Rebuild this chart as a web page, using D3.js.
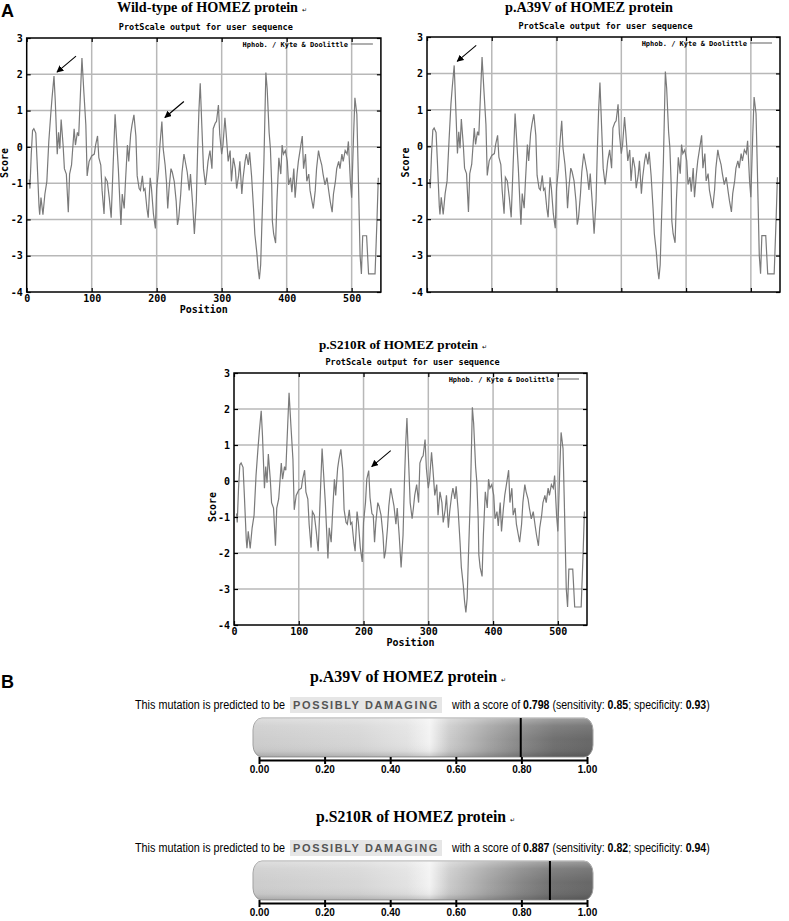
<!DOCTYPE html>
<html>
<head>
<meta charset="utf-8">
<script src="https://cdn.jsdelivr.net/npm/d3@7"></script>
<style>
  body { margin: 0; background: #fff; }
  svg { display: block; }
</style>
</head>
<body>
<svg id="fig" width="789" height="921"></svg>
<script>
// hydropathy profile (Kyte & Doolittle)
var positions = [
  4,5,7,9,11,14,16,19,20,22,
  25,28,31,34,37,39,42,44,47,49,
  51,53,56,58,61,64,66,69,73,75,
  78,80,83,85,88,91,93,96,100,104,
  106,109,111,114,116,119,121,124,127,130,
  133,136,138,141,145,147,150,152,155,157,
  160,162,165,168,170,173,175,178,180,182,
  185,187,190,192,195,198,200,203,205,208,
  210,213,215,217,219,222,224,227,230,232,
  234,237,239,242,245,247,250,252,255,258,
  261,263,265,267,269,272,275,277,279,282,
  285,287,290,292,295,297,300,302,305,307,
  310,313,315,318,321,323,326,328,331,333,
  336,338,341,343,346,349,351,354,356,358,
  360,362,365,368,370,373,375,377,378,380,
  383,385,388,391,393,395,398,401,403,406,
  408,411,413,416,418,421,424,426,429,431,
  434,436,439,441,444,446,449,451,454,456,
  459,462,465,467,470,472,475,477,480,482,
  485,487,490,493,495,498,500,503,505,508,
  510,513,515,517,523,526,536,539,541
];
var wildTypeScores = [
  -0.9,-1.15,-0.2,0.45,0.5,0.38,-0.4,-1.65,-1.87,-1.4,
  -1.87,-1.3,-0.95,0.15,0.9,1.35,1.95,1.25,-0.2,0.4,
  -0.05,0.75,0.05,-0.6,-0.75,-1.8,-0.75,-0.5,0.5,0.05,
  0.4,0.3,1.6,2.45,1.5,0.6,-0.8,-0.4,-0.25,-0.2,
  0.05,0.3,-0.3,-0.5,-1.2,-1.85,-0.85,-0.95,-1.4,-1.95,
  -0.5,0.9,0.3,-0.6,-2.15,-1.3,-1.7,-0.95,0.05,-0.4,
  0.35,0.6,0.88,0.3,-0.8,-1.15,-1.2,-0.8,-1.2,-1.15,
  -1.7,-1.95,-0.85,-1.15,-1.85,-2.25,-1.15,-0.6,0.05,0.7,
  -0.05,-0.5,-0.95,-1.7,-1.15,-0.6,-0.7,-0.95,-1.5,-2.15,
  -1.95,-1.3,-0.7,-0.2,-0.5,-0.7,-1.2,-0.75,-1.5,-2.4,
  -1.5,-0.1,1.0,1.75,0.8,-0.6,-1.05,-0.75,-0.4,-0.1,
  -0.6,0.5,0.65,0.7,1.15,0.35,-0.2,0.05,0.8,0.35,
  -0.4,-0.1,-0.95,-0.3,-0.6,-1.15,-0.8,-0.4,-1.3,-0.85,
  -0.4,-0.2,-0.5,-0.15,-0.8,-1.7,-2.4,-2.9,-3.35,-3.65,
  -3.25,-2.05,-0.4,2.05,1.6,0.4,-0.05,-1.05,-2.05,-2.4,
  -2.65,-1.5,-0.3,-0.75,0.05,-0.2,-0.1,-0.4,-1.05,-0.85,
  -1.25,-0.6,-1.4,-0.75,-0.4,-0.05,0.3,-0.6,-0.2,-0.95,
  -0.75,-1.2,-1.5,-1.7,-1.2,-0.6,-0.1,-0.3,-0.5,-0.75,
  -1.05,-0.85,-1.25,-1.5,-1.8,-1.3,-0.95,-0.6,-0.4,-0.6,
  -0.2,-0.4,-0.1,-0.2,0.15,-0.95,-1.4,0.35,1.35,0.9,
  -0.6,-3.0,-3.5,-2.45,-2.45,-3.5,-3.5,-2.0,-0.85
];
// the mutant profiles only differ around the mutated residue
var a39vPositions = [37, 39, 42];
var a39vScores = [1.17, 1.62, 2.22];
var s210rPositions = [208, 210, 213];
var s210rScores = [0.29, -0.46, -0.91];

var xTicks = [0, 100, 200, 300, 400, 500];
var yTicks = [-4, -3, -2, -1, 0, 1, 2, 3];

// PolyPhen panel
var mutations = ["p.A39V", "p.S210R"];
var polyScores = [0.798, 0.887];
var sensitivity = [0.85, 0.82];
var specificity = [0.93, 0.94];
var barTicks = [0, 0.2, 0.4, 0.6, 0.8, 1.0];
var barTickLabels = ["0.00", "0.20", "0.40", "0.60", "0.80", "1.00"];

var svg = d3.select("#fig");
var defs = svg.append("defs");

defs.append("marker")
    .attr("id", "arrowhead")
    .attr("viewBox", "0 0 10 10")
    .attr("refX", 9).attr("refY", 5)
    .attr("markerWidth", 7).attr("markerHeight", 7)
    .attr("markerUnits", "userSpaceOnUse")
    .attr("orient", "auto")
    .append("path").attr("d", "M0,0L10,5L0,10z").attr("fill", "#000");

var mono = "'DejaVu Sans Mono', monospace";
var serif = "'Liberation Serif', 'Times New Roman', serif";

function patched(pos, vals) {
    var s = wildTypeScores.slice();
    pos.forEach(function(p, i) { s[positions.indexOf(p)] = vals[i]; });
    return s;
}

function profile(cfg, scores) {
    var g = svg.append("g");
    var x = d3.scaleLinear().domain([0, 545]).range([cfg.left, cfg.right]);
    var y = d3.scaleLinear().domain([-4, 3]).range([cfg.bottom, cfg.top]);

    // grid
    g.append("g").selectAll("line").data(xTicks.slice(1)).enter().append("line")
        .attr("x1", d => x(d)).attr("x2", d => x(d))
        .attr("y1", cfg.top).attr("y2", cfg.bottom)
        .attr("stroke", "#b8b8b8").attr("stroke-width", 1.5);
    g.append("g").selectAll("line").data(yTicks.slice(1, -1)).enter().append("line")
        .attr("x1", cfg.left).attr("x2", cfg.right)
        .attr("y1", d => y(d)).attr("y2", d => y(d))
        .attr("stroke", "#b8b8b8").attr("stroke-width", 1.5);

    // score line
    g.append("path")
        .datum(d3.zip(positions, scores))
        .attr("fill", "none")
        .attr("stroke", "#7a7a7a")
        .attr("stroke-width", 1.2)
        .attr("d", d3.line().x(d => x(d[0])).y(d => y(d[1])));

    // axes, ticks inward on all four sides
    function styleAxis(a) {
        a.attr("font-family", mono).attr("font-weight", "bold").attr("font-size", 10);
        a.select(".domain").remove();
        a.selectAll(".tick line").attr("stroke", "#000").attr("stroke-width", 1.2);
        a.selectAll(".tick text").attr("fill", "#000");
    }
    g.append("g").attr("transform", "translate(" + cfg.left + ",0)")
        .call(d3.axisLeft(y).tickValues(yTicks).tickSize(-4).tickPadding(4).tickFormat(d => String(d)))
        .call(styleAxis);
    g.append("g").attr("transform", "translate(" + cfg.right + ",0)")
        .call(d3.axisRight(y).tickValues(yTicks).tickSize(-4).tickFormat(""))
        .call(styleAxis);
    g.append("g").attr("transform", "translate(0," + cfg.top + ")")
        .call(d3.axisTop(x).tickValues(xTicks).tickSize(-4).tickFormat(""))
        .call(styleAxis);
    g.append("g").attr("transform", "translate(0," + cfg.bottom + ")")
        .call(d3.axisBottom(x).tickValues(xTicks).tickSize(-4).tickPadding(3)
            .tickFormat(cfg.showX ? (d => String(d)) : ""))
        .call(styleAxis);

    g.append("rect")
        .attr("x", cfg.left).attr("y", cfg.top)
        .attr("width", cfg.right - cfg.left).attr("height", cfg.bottom - cfg.top)
        .attr("fill", "none").attr("stroke", "#000").attr("stroke-width", 1.5);

    if (cfg.showX) {
        g.append("text")
            .attr("x", (cfg.left + cfg.right) / 2).attr("y", cfg.bottom + 21)
            .attr("text-anchor", "middle")
            .attr("font-family", mono).attr("font-weight", "bold").attr("font-size", 10)
            .text("Position");
    }
    g.append("text")
        .attr("transform", "translate(" + (cfg.left - 22) + "," + ((cfg.top + cfg.bottom) / 2 + cfg.scoreDy) + ") rotate(-90)")
        .attr("text-anchor", "middle").attr("dominant-baseline", "central")
        .attr("font-family", mono).attr("font-weight", "bold").attr("font-size", 10)
        .text("Score");

    g.append("text")
        .attr("x", (cfg.left + cfg.right) / 2 + 2).attr("y", cfg.top - 8)
        .attr("text-anchor", "middle")
        .attr("font-family", mono).attr("font-weight", "bold").attr("font-size", 8.5)
        .text("ProtScale output for user sequence");

    // legend
    g.append("text")
        .attr("x", cfg.right - 33).attr("y", cfg.top + 9)
        .attr("text-anchor", "end")
        .attr("font-family", mono).attr("font-weight", "bold").attr("font-size", 7)
        .text("Hphob. / Kyte & Doolittle");
    g.append("line")
        .attr("x1", cfg.right - 30).attr("x2", cfg.right - 8)
        .attr("y1", cfg.top + 6).attr("y2", cfg.top + 6)
        .attr("stroke", "#7a7a7a").attr("stroke-width", 1.2);

    // title
    g.append("text")
        .attr("x", cfg.titleX).attr("y", cfg.titleY)
        .attr("font-family", serif).attr("font-weight", "bold").attr("font-size", cfg.titleSize)
        .attr("textLength", cfg.titleW).attr("lengthAdjust", "spacingAndGlyphs")
        .text(cfg.title);
    if (cfg.returnMark) {
        g.append("text")
            .attr("x", cfg.titleX + cfg.titleW + 4).attr("y", cfg.titleY)
            .attr("font-family", "'DejaVu Sans', sans-serif").attr("font-size", 6)
            .text("\u21b5");
    }

    // arrows pointing at the mutated residue peaks
    cfg.arrows.forEach(function(p) {
        var v = scores[positions.indexOf(p)];
        var tx = x(p) + 3, ty = y(v) - 4;
        g.append("line")
            .attr("x1", tx + 19).attr("y1", ty - 16)
            .attr("x2", tx).attr("y2", ty)
            .attr("stroke", "#000").attr("stroke-width", 1.1)
            .attr("marker-end", "url(#arrowhead)");
    });
}

profile({ left: 26.7, right: 380.9, top: 38, bottom: 292, showX: true, scoreDy: -2,
          title: "Wild-type of HOMEZ protein", titleX: 117, titleY: 12, titleW: 181, titleSize: 14.5,
          returnMark: true, arrows: [42, 208] }, wildTypeScores);
profile({ left: 427, right: 780, top: 37, bottom: 292, showX: false, scoreDy: -2,
          title: "p.A39V of HOMEZ protein", titleX: 505, titleY: 12, titleW: 168, titleSize: 14.5,
          returnMark: false, arrows: [42] }, patched(a39vPositions, a39vScores));
profile({ left: 234, right: 587, top: 373, bottom: 625, showX: true, scoreDy: 8,
          title: "p.S210R of HOMEZ protein", titleX: 319, titleY: 349, titleW: 159, titleSize: 13.4,
          returnMark: true, arrows: [208] }, patched(s210rPositions, s210rScores));

// panel letters
svg.append("text").attr("x", 1).attr("y", 17)
    .attr("font-family", "'Liberation Sans', Arial, sans-serif").attr("font-weight", "bold").attr("font-size", 18)
    .text("A");
svg.append("text").attr("x", 1).attr("y", 688)
    .attr("font-family", "'Liberation Sans', Arial, sans-serif").attr("font-weight", "bold").attr("font-size", 18)
    .text("B");

// ---- PolyPhen bars ----
var bx = d3.scaleLinear().domain([0, 1]).range([259, 587]);
var shadeStops = [0, 0.3, 0.45, 0.52, 0.58, 0.7, 0.8, 0.9, 1];
var shadeColors = ["#cdcdcd", "#d6d6d6", "#e2e2e2", "#f3f3f3", "#cbcbcb", "#a4a4a4", "#878787", "#707070", "#686868"];

var hg = defs.append("linearGradient").attr("id", "polyShade")
    .attr("gradientUnits", "userSpaceOnUse")
    .attr("x1", bx(0)).attr("x2", bx(1)).attr("y1", 0).attr("y2", 0);
hg.selectAll("stop").data(shadeStops).enter().append("stop")
    .attr("offset", d => d).attr("stop-color", (d, i) => shadeColors[i]);

var vg = defs.append("linearGradient").attr("id", "polyGloss")
    .attr("x1", 0).attr("x2", 0).attr("y1", 0).attr("y2", 1);
[[0, "#fff", 0.35], [0.2, "#fff", 0.12], [0.55, "#fff", 0], [0.85, "#000", 0.04], [1, "#000", 0.18]]
    .forEach(function(s) {
        vg.append("stop").attr("offset", s[0]).attr("stop-color", s[1]).attr("stop-opacity", s[2]);
    });

var sansNarrow = "'Liberation Sans Narrow', 'Arial Narrow', 'Liberation Sans', sans-serif";

function polyphen(i, dy, titleX, titleW) {
    var g = svg.append("g").attr("transform", "translate(0," + dy + ")");
    var ty = 682 + (i ? -3 : 0);

    g.append("text")
        .attr("x", titleX).attr("y", ty)
        .attr("font-family", serif).attr("font-weight", "bold").attr("font-size", 16)
        .attr("textLength", titleW).attr("lengthAdjust", "spacingAndGlyphs")
        .text(mutations[i] + " of HOMEZ protein");
    g.append("text")
        .attr("x", titleX + titleW + 4).attr("y", ty)
        .attr("font-family", "'DejaVu Sans', sans-serif").attr("font-size", 6)
        .text("\u21b5");

    g.append("text")
        .attr("x", 135).attr("y", 709)
        .attr("font-family", sansNarrow).attr("font-size", 12)
        .attr("textLength", 150).attr("lengthAdjust", "spacingAndGlyphs")
        .text("This mutation is predicted to be");

    g.append("rect")
        .attr("x", 290).attr("y", 697).attr("width", 152).attr("height", 16)
        .attr("fill", "#e6e6e6");
    g.append("text")
        .attr("x", 366).attr("y", 709)
        .attr("text-anchor", "middle")
        .attr("font-family", "'Liberation Sans', Arial, sans-serif").attr("font-weight", "bold")
        .attr("font-size", 11).attr("fill", "#555")
        .attr("letter-spacing", 1.6)
        .text("POSSIBLY DAMAGING");

    // score sentence, squeezed horizontally to the reference width
    var sg = g.append("g");
    var t = sg.append("text")
        .attr("x", 0).attr("y", 0)
        .attr("font-family", sansNarrow).attr("font-size", 12);
    t.append("tspan").text("with a score of ");
    t.append("tspan").attr("font-weight", "bold").text(polyScores[i].toFixed(3));
    t.append("tspan").text(" (sensitivity: ");
    t.append("tspan").attr("font-weight", "bold").text(sensitivity[i].toFixed(2));
    t.append("tspan").text("; specificity: ");
    t.append("tspan").attr("font-weight", "bold").text(specificity[i].toFixed(2));
    t.append("tspan").text(")");
    var w = t.node().getComputedTextLength() || 258;
    sg.attr("transform", "translate(452,709) scale(" + (258 / w) + ",1)");

    // the bar itself
    var bx0 = bx(0) - 6, bx1 = bx(1) + 6;
    g.append("rect")
        .attr("x", bx0).attr("y", 718).attr("width", bx1 - bx0).attr("height", 39)
        .attr("rx", 9).attr("ry", 12)
        .attr("fill", "url(#polyShade)").attr("stroke", "#a0a0a0").attr("stroke-width", 1);
    g.append("rect")
        .attr("x", bx0).attr("y", 718).attr("width", bx1 - bx0).attr("height", 39)
        .attr("rx", 9).attr("ry", 12)
        .attr("fill", "url(#polyGloss)");
    g.append("line")
        .attr("x1", bx(polyScores[i])).attr("x2", bx(polyScores[i]))
        .attr("y1", 718).attr("y2", 757)
        .attr("stroke", "#000").attr("stroke-width", 2);

    var ax = g.append("g").attr("transform", "translate(0,760)")
        .call(d3.axisBottom(bx).tickValues(barTicks).tickSizeInner(4).tickSizeOuter(0).tickPadding(2)
            .tickFormat((d, k) => barTickLabels[k]));
    ax.attr("font-family", "'Liberation Sans', Arial, sans-serif").attr("font-weight", "bold").attr("font-size", 10);
    ax.select(".domain").attr("stroke", "#000").attr("stroke-width", 2);
    ax.selectAll(".tick line").attr("stroke", "#000").attr("stroke-width", 2).attr("y1", -3);
    ax.selectAll(".tick text").attr("fill", "#000");
}

polyphen(0, 0, 310, 187);
polyphen(1, 143, 316, 190);
</script>
</body>
</html>
